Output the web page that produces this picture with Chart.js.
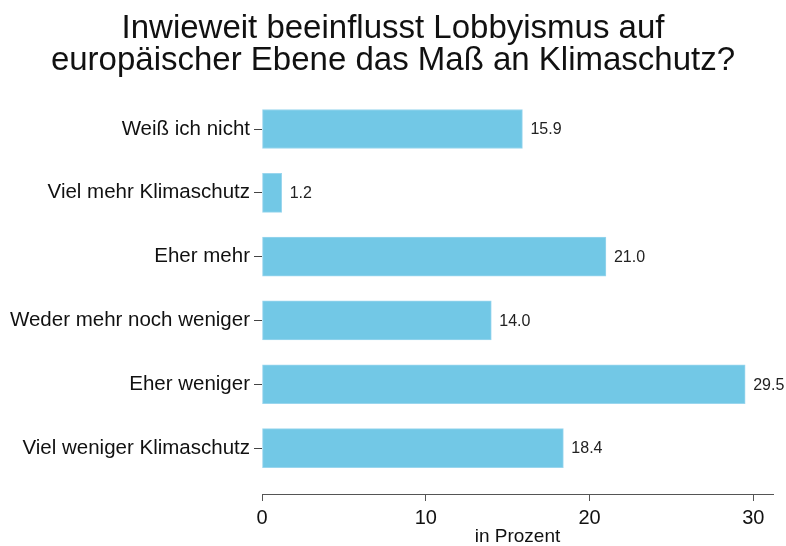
<!DOCTYPE html>
<html>

<head>
  <title>Lobbyismus und Klimaschutz</title>
  <meta charset="UTF-8">
  <script src="https://cdn.jsdelivr.net/npm/chart.js"></script>
  <style>
    body {
      margin: 0;
      background: white;
    }

    .chart-container {
      width: 786px;
      height: 546px;
    }
  </style>
</head>

<body>
  <div class="chart-container">
    <canvas id="mainChart" width="786" height="546"></canvas>
  </div>

  <script>
    const categories = [
      'Weiß ich nicht',
      'Viel mehr Klimaschutz',
      'Eher mehr',
      'Weder mehr noch weniger',
      'Eher weniger',
      'Viel weniger Klimaschutz'
    ];
    const values = [15.9, 1.2, 21.0, 14.0, 29.5, 18.4];
    const xTicks = [0, 10, 20, 30];

    const fontFamily = '"Liberation Sans", Arial, sans-serif';

    // value labels at the end of each bar
    const barLabels = {
      id: 'barLabels',
      afterDatasetsDraw(chart) {
        const ctx = chart.ctx;
        const meta = chart.getDatasetMeta(0);
        ctx.save();
        ctx.font = '16px ' + fontFamily;
        ctx.fillStyle = '#222';
        ctx.textBaseline = 'middle';
        ctx.textAlign = 'left';
        meta.data.forEach((bar, i) => {
          ctx.fillText(values[i].toFixed(1), bar.x + 8, bar.y + 1);
        });
        ctx.restore();
      }
    };

    const ctx = document.getElementById('mainChart').getContext('2d');

    new Chart(ctx, {
      type: 'bar',
      data: {
        datasets: [{
          data: values.map((v, i) => ({ x: v, y: i })),
          backgroundColor: '#72c8e6',
          borderColor: '#9ad6ee',
          borderWidth: 1,
          borderSkipped: false,
          barThickness: 39
        }]
      },
      options: {
        responsive: false,
        animation: false,
        indexAxis: 'y',
        layout: { padding: 0 },
        plugins: {
          legend: { display: false },
          tooltip: { enabled: false },
          title: {
            display: true,
            text: ['Inwieweit beeinflusst Lobbyismus auf', 'europäischer Ebene das Maß an Klimaschutz?'],
            color: '#111',
            font: { family: fontFamily, size: 33, weight: 'normal', lineHeight: 0.97 },
            padding: { top: 13, bottom: 15 }
          }
        },
        scales: {
          x: {
            type: 'linear',
            min: 0,
            max: 31.2,
            afterBuildTicks: s => { s.ticks = xTicks.map(v => ({ value: v })); },
            afterFit: s => { s.height = 52; },
            border: { display: true, color: '#555', width: 1 },
            grid: { display: true, drawOnChartArea: false, drawTicks: true, tickLength: 7, color: '#555' },
            ticks: {
              color: '#111',
              padding: 5,
              font: { family: fontFamily, size: 20 }
            },
            title: {
              display: true,
              text: 'in Prozent',
              color: '#111',
              padding: 0,
              font: { family: fontFamily, size: 19, lineHeight: 1 }
            }
          },
          y: {
            type: 'linear',
            reverse: true,
            offset: false,
            min: -0.58,
            max: 5.72,
            afterBuildTicks: s => { s.ticks = categories.map((c, i) => ({ value: i })); },
            afterFit: s => { s.width = 262; },
            border: { display: false },
            grid: { display: true, offset: false, drawOnChartArea: false, drawTicks: true, tickLength: 8, color: '#444' },
            ticks: {
              color: '#111',
              padding: 4,
              font: { family: fontFamily, size: 20.5 },
              callback: v => categories[v]
            }
          },
          // empty margin on the right so the title stays centred on the canvas
          yRight: {
            type: 'linear',
            position: 'right',
            afterFit: s => { s.width = 13; },
            border: { display: false },
            grid: { display: false },
            ticks: { display: false }
          }
        }
      },
      plugins: [barLabels]
    });
  </script>
</body>

</html>
